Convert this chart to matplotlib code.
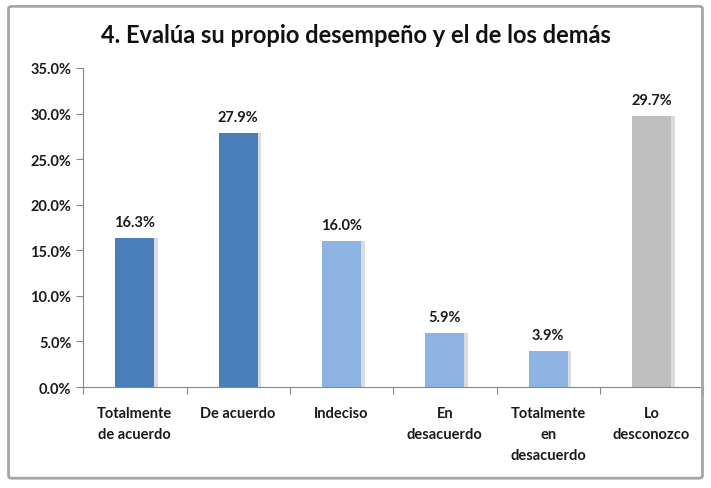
import numpy as np
import matplotlib
matplotlib.use("Agg")
import matplotlib.pyplot as plt
from matplotlib.patches import FancyBboxPatch
from matplotlib.ticker import FuncFormatter

categorias = ["Totalmente\nde acuerdo", "De acuerdo", "Indeciso", "En\ndesacuerdo",
              "Totalmente\nen\ndesacuerdo", "Lo\ndesconozco"]
valores = [16.3, 27.9, 16.0, 5.9, 3.9, 29.7]
colores = ["#4a7ebb", "#4a7ebb", "#8db3e2", "#8db3e2", "#8db3e2", "#bfbfbf"]

plt.rcParams['font.family'] = ['Lato', 'DejaVu Sans']

fig = plt.figure(figsize=(7.11, 4.89), dpi=100, facecolor="white")

# marco exterior
marco = FancyBboxPatch((0.012, 0.02), 0.976, 0.965, boxstyle="round,pad=0,rounding_size=0.005",
                       transform=fig.transFigure, facecolor="none", edgecolor="#a6a6a6",
                       linewidth=2.0, zorder=5)
fig.patches.append(marco)

ax = fig.add_axes([0.117, 0.2065, 0.872, 0.6525])
ax.set_facecolor("none")

x = np.arange(len(categorias))
ancho = 0.38
# sombra suave
ax.bar(x + 0.035, valores, width=ancho, color="#dcdcdc", zorder=1)
ax.bar(x, valores, width=ancho, color=colores, zorder=2)

for xi, v in zip(x, valores):
    ax.text(xi, v + 1.0, f"{v:.1f}%", ha="center", va="bottom",
            fontsize=10.5, fontweight="bold", color="#1a1a1a")

ax.set_xlim(-0.5, len(categorias) - 0.5)
ax.set_ylim(0, 35)
ax.set_yticks(np.arange(0, 35.1, 5))
ax.yaxis.set_major_formatter(FuncFormatter(lambda v, p: f"{v:.1f}%"))
ax.set_xticks(np.arange(-0.5, len(categorias), 1))
ax.set_xticklabels([])
ax.set_xticks(x, minor=True)
ax.set_xticklabels(categorias, minor=True, fontsize=10.5, fontweight="bold", color="#1a1a1a",
                   linespacing=1.6)
ax.tick_params(axis="x", which="minor", length=0, pad=14)
ax.tick_params(axis="x", which="major", length=5, color="#868686")
ax.tick_params(axis="y", length=5, color="#868686", labelsize=10.5, labelcolor="#1a1a1a")
for lbl in ax.get_yticklabels():
    lbl.set_fontweight("bold")

for s in ["top", "right"]:
    ax.spines[s].set_visible(False)
for s in ["left", "bottom"]:
    ax.spines[s].set_color("#868686")

fig.text(0.5, 0.928, "4. Evalúa su propio desempeño y el de los demás", ha="center", va="center",
         fontsize=17, fontweight="bold", color="#111111")

fig.savefig("out.png", dpi=100, facecolor="white")
